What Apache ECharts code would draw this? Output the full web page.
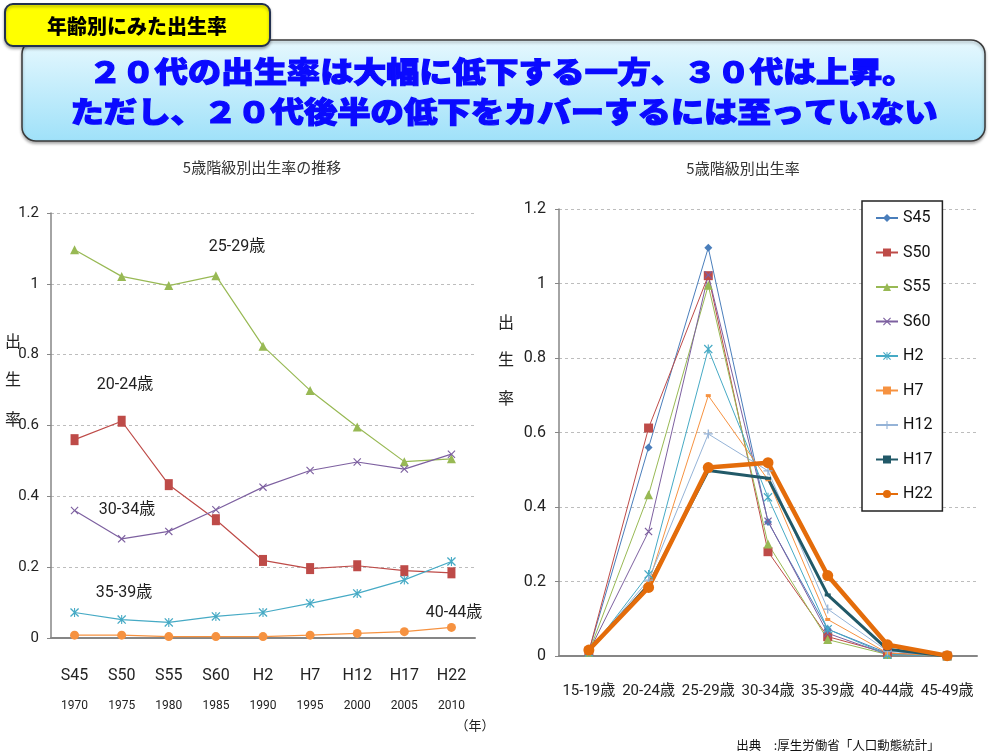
<!DOCTYPE html>
<html>
<head>
<meta charset="utf-8">
<script src="https://cdn.jsdelivr.net/npm/echarts@6/dist/echarts.min.js"></script>
<style>
  html, body { margin: 0; padding: 0; background: #fff; }
  #chart { width: 989px; height: 754px; }
</style>
</head>
<body>
<div id="chart"></div>
<script>
// 年（和暦 / 西暦）
const years = ['S45', 'S50', 'S55', 'S60', 'H2', 'H7', 'H12', 'H17', 'H22'];
const seireki = ['1970', '1975', '1980', '1985', '1990', '1995', '2000', '2005', '2010'];
const ageGroups = ['15-19歳', '20-24歳', '25-29歳', '30-34歳', '35-39歳', '40-44歳', '45-49歳'];

// 5歳階級別出生率（年ごと）
const age15_19 = [0.012, 0.012, 0.010, 0.011, 0.010, 0.011, 0.015, 0.015, 0.016];
const age20_24 = [0.56, 0.612, 0.433, 0.334, 0.219, 0.196, 0.204, 0.19, 0.184];
const age25_29 = [1.096, 1.021, 0.995, 1.023, 0.824, 0.699, 0.596, 0.498, 0.506];
const age30_34 = [0.36, 0.28, 0.301, 0.362, 0.426, 0.473, 0.497, 0.477, 0.519];
const age35_39 = [0.072, 0.052, 0.044, 0.061, 0.072, 0.098, 0.126, 0.164, 0.216];
const age40_44 = [0.008, 0.008, 0.004, 0.004, 0.004, 0.008, 0.013, 0.018, 0.03];
const age45_49 = [0.001, 0, 0, 0, 0, 0, 0, 0, 0.001];

const yMin = 0, yMax = 1.2, yStep = 0.2;

const LAT = "Roboto,'Noto Sans CJK JP',sans-serif";
const JP = "'Noto Sans CJK JP',sans-serif";

const X_PATH = 'path://M0,1L1,0L5,4L9,0L10,1L6,5L10,9L9,10L5,6L1,10L0,9L4,5Z';
const AST_PATH = 'path://M0,1L1,0L5,4L9,0L10,1L6,5L10,9L9,10L5,6L1,10L0,9L4,5Z M4.4,0L5.6,0L5.6,10L4.4,10Z';
const PLUS_PATH = 'path://M4.3,0H5.7V4.3H10V5.7H5.7V10H4.3V5.7H0V4.3H4.3Z';

// left chart: one line per age group
const leftData = [age20_24, age25_29, age30_34, age35_39, age40_44];
const leftNames = ['20-24歳', '25-29歳', '30-34歳', '35-39歳', '40-44歳'];
const leftStyles = [
  { color: '#BE4B48', symbol: 'rect', size: [8, 11] },
  { color: '#98B954', symbol: 'triangle', size: 9 },
  { color: '#7D60A0', symbol: X_PATH, size: 8 },
  { color: '#46AAC5', symbol: AST_PATH, size: 9 },
  { color: '#F69240', symbol: 'circle', size: 9 },
];

// right chart: one line per year, across age groups
const ageTable = [age15_19, age20_24, age25_29, age30_34, age35_39, age40_44, age45_49];
const rightStyles = [
  { color: '#4A7EBB', symbol: 'diamond', size: 8, width: 1 },
  { color: '#BE4B48', symbol: 'rect', size: 9, width: 1 },
  { color: '#98B954', symbol: 'triangle', size: 9, width: 1 },
  { color: '#7D60A0', symbol: X_PATH, size: 8, width: 1 },
  { color: '#46AAC5', symbol: AST_PATH, size: 9, width: 1 },
  { color: '#F69240', symbol: 'rect', size: [5, 3], width: 1 },
  { color: '#95B3D7', symbol: PLUS_PATH, size: 9, width: 1 },
  { color: '#215968', symbol: 'rect', size: [6, 3], width: 3 },
  { color: '#E46C0A', symbol: 'circle', size: 11, width: 4.5 },
];

const chart = echarts.init(document.getElementById('chart'));

const yAxisBase = {
  type: 'value',
  min: yMin,
  max: yMax,
  interval: yStep,
  axisLine: { show: true, lineStyle: { color: '#868686', width: 1.5 } },
  axisTick: { show: true, length: 4, lineStyle: { color: '#868686' } },
  axisLabel: { fontFamily: LAT, fontSize: 15, color: '#222', margin: 12 },
  splitLine: { lineStyle: { color: '#bdbdbd', type: [3, 3] } },
};

const leftSeries = leftData.map((d, i) => ({
  name: leftNames[i],
  type: 'line',
  xAxisIndex: 0,
  yAxisIndex: 0,
  data: d,
  symbol: leftStyles[i].symbol,
  symbolSize: leftStyles[i].size,
  itemStyle: { color: leftStyles[i].color },
  lineStyle: { color: leftStyles[i].color, width: 1.2 },
}));

const rightSeries = years.map((y, i) => ({
  name: y,
  type: 'line',
  xAxisIndex: 1,
  yAxisIndex: 1,
  data: ageTable.map((a) => a[i]),
  symbol: rightStyles[i].symbol,
  symbolSize: rightStyles[i].size,
  itemStyle: { color: rightStyles[i].color },
  lineStyle: { color: rightStyles[i].color, width: rightStyles[i].width },
}));

const txt = (text, x, y, size, extra) => ({
  type: 'text',
  x: x,
  y: y,
  z: 100,
  style: Object.assign({
    text: text,
    fontSize: size,
    fontFamily: LAT,
    fill: '#222',
    align: 'center',
    verticalAlign: 'middle',
  }, extra || {}),
});

const option = {
  animation: false,
  backgroundColor: '#fff',
  grid: [
    { left: 51, right: 514, top: 213, bottom: 116 },
    { left: 559, right: 12, top: 209, bottom: 98 },
  ],
  xAxis: [
    {
      type: 'category',
      gridIndex: 0,
      data: years,
      axisLine: { lineStyle: { color: '#868686', width: 2 } },
      axisTick: { length: 8, lineStyle: { color: '#868686', width: 1.5 } },
      axisLabel: {
        interval: 0,
        margin: 23,
        formatter: (v, idx) => '{a|' + v + '}\n{b|' + seireki[idx] + '}',
        rich: {
          a: { fontFamily: LAT, fontSize: 16, lineHeight: 30, color: '#222' },
          b: { fontFamily: LAT, fontSize: 12, lineHeight: 30, color: '#222' },
        },
      },
    },
    {
      type: 'category',
      gridIndex: 1,
      data: ageGroups,
      axisLine: { lineStyle: { color: '#868686', width: 2 } },
      axisTick: { length: 8, lineStyle: { color: '#868686', width: 1.5 } },
      axisLabel: { interval: 0, margin: 28, fontFamily: LAT, fontSize: 15, color: '#222' },
    },
  ],
  yAxis: [
    Object.assign({ gridIndex: 0 }, yAxisBase),
    Object.assign({ gridIndex: 1 }, yAxisBase, {
      axisLabel: { fontFamily: LAT, fontSize: 16, color: '#222', margin: 13 },
    }),
  ],
  legend: {
    data: years,
    orient: 'vertical',
    left: 862,
    top: 201,
    itemWidth: 22,
    itemHeight: 10,
    itemGap: 16.5,
    padding: [8, 10, 8, 13],
    borderColor: '#222',
    borderWidth: 1.5,
    backgroundColor: '#fff',
    textStyle: { fontFamily: LAT, fontSize: 16, lineHeight: 18, color: '#111' },
  },
  series: leftSeries.concat(rightSeries),
  graphic: [
    // header boxes
    {
      type: 'rect',
      z: 90,
      shape: { x: 22, y: 40, width: 963, height: 101, r: 14 },
      style: {
        fill: new echarts.graphic.LinearGradient(0, 0, 0, 1, [
          { offset: 0, color: '#e6f8fe' },
          { offset: 1, color: '#9fe1f9' },
        ]),
        stroke: '#3a3a3a',
        lineWidth: 1.5,
        shadowBlur: 3,
        shadowOffsetY: 2,
        shadowColor: 'rgba(0,0,0,0.3)',
      },
    },
    {
      type: 'rect',
      z: 95,
      shape: { x: 5, y: 4, width: 265, height: 42, r: 8 },
      style: {
        fill: '#ffff00',
        stroke: '#22304f',
        lineWidth: 2,
        shadowBlur: 3,
        shadowOffsetY: 2,
        shadowColor: 'rgba(0,0,0,0.3)',
      },
    },
    txt('年齢別にみた出生率', 137, 26, 20, { fontFamily: JP, fontWeight: 900, fill: '#000' }),
    Object.assign(
      txt('２０代の出生率は大幅に低下する一方、３０代は上昇。', 502, 72, 29,
        { fontFamily: JP, fontWeight: 900, fill: '#0a0aff', stroke: '#0a0aff', lineWidth: 1.2 }),
      { scaleX: 1.14 }
    ),
    Object.assign(
      txt('ただし、２０代後半の低下をカバーするには至っていない', 504, 112, 29,
        { fontFamily: JP, fontWeight: 900, fill: '#0a0aff', stroke: '#0a0aff', lineWidth: 1.2 }),
      { scaleX: 1.15 }
    ),
    // chart titles
    txt('5歳階級別出生率の推移', 262, 167, 15, { fill: '#333', fontFamily: JP }),
    txt('5歳階級別出生率', 743, 168, 15, { fill: '#333', fontFamily: JP }),
    // y-axis names
    txt('出', 13, 341, 16, { fontFamily: JP }),
    txt('生', 13, 379, 16, { fontFamily: JP }),
    txt('率', 13, 419, 16, { fontFamily: JP }),
    txt('出', 506, 322, 16, { fontFamily: JP }),
    txt('生', 506, 359, 16, { fontFamily: JP }),
    txt('率', 506, 398, 16, { fontFamily: JP }),
    // series annotations on left chart
    txt('25-29歳', 237, 247, 16),
    txt('20-24歳', 125, 385, 16),
    txt('30-34歳', 127, 510, 16),
    txt('35-39歳', 124, 593, 16),
    txt('40-44歳', 454, 613, 16),
    txt('（年）', 475, 725, 13, { fontFamily: JP }),
    // source
    txt('出典\u3000:厚生労働省「人口動態統計」', 838, 745, 12.5, { fontFamily: JP, fill: '#111' }),
  ],
};

chart.setOption(option);
</script>
</body>
</html>
